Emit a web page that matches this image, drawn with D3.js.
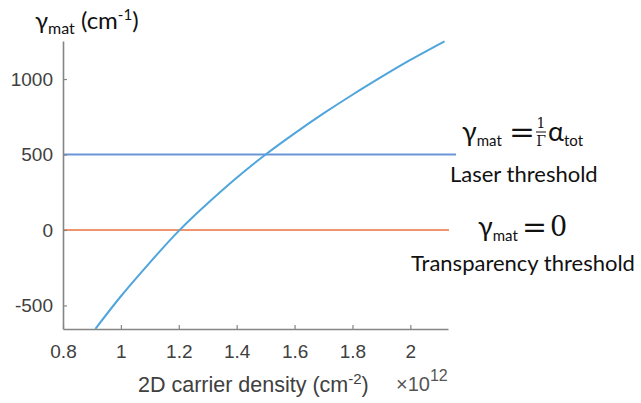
<!DOCTYPE html>
<html>
<head>
<meta charset="utf-8">
<script src="https://cdn.jsdelivr.net/npm/d3@7"></script>
<style>
  body { margin: 0; background: #fff; }
  .tick text { font-family: "Liberation Sans", Arial, sans-serif; font-size: 19px; fill: #404040; }
  .cal { font-family: Lato, "Open Sans", sans-serif; fill: #111; }
  .mth { font-family: "DejaVu Serif", serif; fill: #111; }
</style>
</head>
<body>
<svg width="641" height="403"></svg>
<script>
// carrier density (x 1e12 cm^-2) and material gain (cm^-1)
var density = [0.912, 1.0, 1.1, 1.2, 1.3, 1.4, 1.5, 1.6, 1.7, 1.8, 1.9, 2.0, 2.118];
var gain = [-655, -439, -216, -6, 177, 346, 500, 640, 772, 896, 1014, 1127, 1250];
var xTickVals = [0.8, 1, 1.2, 1.4, 1.6, 1.8, 2];
var yTickVals = [-500, 0, 500, 1000];
var laserLevel = 500;
var transLevel = 0;

const svg = d3.select("svg");
const x = d3.scaleLinear().domain([0.8, 2.13]).range([63, 448]);
const y = d3.scaleLinear().domain([-656, 1252]).range([329, 41]);

// horizontal threshold lines
svg.append("line")
  .attr("x1", x(0.8)).attr("x2", 456)
  .attr("y1", y(laserLevel)).attr("y2", y(laserLevel))
  .attr("stroke", "#6a95d6").attr("stroke-width", 2);
svg.append("line")
  .attr("x1", x(0.8)).attr("x2", 449)
  .attr("y1", y(transLevel)).attr("y2", y(transLevel))
  .attr("stroke", "#f0946f").attr("stroke-width", 2);

// gain curve
const pts = density.map((d, i) => [d, gain[i]]);
const line = d3.line()
  .x(d => x(d[0]))
  .y(d => y(d[1]))
  .curve(d3.curveNatural);
svg.append("path")
  .datum(pts)
  .attr("d", line)
  .attr("fill", "none")
  .attr("stroke", "#4fa5dc")
  .attr("stroke-width", 2);

// axes (matlab-ish, ticks pointing inward)
const xAxis = d3.axisBottom(x).tickValues(xTickVals)
  .tickFormat(d => String(d)).tickSizeInner(-4).tickSizeOuter(0).tickPadding(16);
const yAxis = d3.axisLeft(y).tickValues(yTickVals)
  .tickFormat(d => String(d)).tickSizeInner(-4).tickSizeOuter(0).tickPadding(10);

const gx = svg.append("g").attr("transform", `translate(0,${y.range()[0]})`).call(xAxis);
const gy = svg.append("g").attr("transform", `translate(${x.range()[0]},0)`).call(yAxis);
[gx, gy].forEach(g => {
  g.select(".domain").attr("stroke", "#858585").attr("stroke-width", 1.6);
  g.selectAll(".tick line").attr("stroke", "#858585").attr("stroke-width", 1.2);
});

// x axis label
var xl = svg.append("text")
  .attr("x", 138).attr("y", 392)
  .style("font-family", "Liberation Sans, Arial, sans-serif")
  .style("font-size", "21.5px").style("fill", "#404040");
xl.append("tspan").text("2D carrier density (cm");
xl.append("tspan").attr("dy", -8).style("font-size", "15px").text("-2");
xl.append("tspan").attr("dy", 8).text(")");

var mult = svg.append("text")
  .attr("x", 396).attr("y", 391)
  .style("font-family", "Liberation Sans, Arial, sans-serif")
  .style("font-size", "20px").style("fill", "#555");
mult.append("tspan").text("\u00d710");
mult.append("tspan").attr("dy", -10).style("font-size", "16px").text("12");

// y axis title
var yt = svg.append("text").attr("class", "cal").attr("x", 35).attr("y", 29).style("font-size", "24px");
yt.append("tspan").text("\u03b3");
yt.append("tspan").attr("dy", 5).style("font-size", "16px").text("mat");
yt.append("tspan").attr("dy", -5).text(" (cm");
yt.append("tspan").attr("dy", -9).style("font-size", "15px").text("-1");
yt.append("tspan").attr("dy", 9).text(")");

// laser threshold annotation
var f1 = svg.append("text").attr("class", "cal").attr("x", 462).attr("y", 141).style("font-size", "27px");
f1.append("tspan").text("\u03b3");
f1.append("tspan").attr("dy", 5).style("font-size", "15px").text("mat");
svg.append("text").attr("class", "mth").attr("x", 509).attr("y", 142)
  .attr("textLength", 26).attr("lengthAdjust", "spacingAndGlyphs")
  .style("font-size", "30px").text("=");
svg.append("text").attr("class", "mth").attr("x", 541).attr("y", 128)
  .attr("text-anchor", "middle").style("font-size", "14px").text("1");
svg.append("line").attr("x1", 536).attr("x2", 546).attr("y1", 132).attr("y2", 132)
  .attr("stroke", "#111").attr("stroke-width", 1);
svg.append("text").attr("class", "mth").attr("x", 541).attr("y", 146)
  .attr("text-anchor", "middle").style("font-size", "14px").text("\u0393");
var f2 = svg.append("text").attr("class", "cal").attr("x", 548).attr("y", 141).style("font-size", "27px");
f2.append("tspan").text("\u03b1");
f2.append("tspan").attr("dy", 5).style("font-size", "15px").text("tot");

svg.append("text").attr("class", "cal").attr("x", 450).attr("y", 182)
  .style("font-size", "22px")
  .text("Laser threshold");

// transparency annotation
var f3 = svg.append("text").attr("class", "cal").attr("x", 478).attr("y", 236).style("font-size", "27px");
f3.append("tspan").text("\u03b3");
f3.append("tspan").attr("dy", 5).style("font-size", "15px").text("mat");
svg.append("text").attr("class", "mth").attr("x", 522).attr("y", 237)
  .attr("textLength", 25).attr("lengthAdjust", "spacingAndGlyphs")
  .style("font-size", "30px").text("=");
svg.append("text").attr("class", "mth").attr("x", 550).attr("y", 236)
  .style("font-size", "27px").text("0");

svg.append("text").attr("class", "cal").attr("x", 411).attr("y", 271)
  .style("font-size", "22px")
  .text("Transparency threshold");
</script>
</body>
</html>
